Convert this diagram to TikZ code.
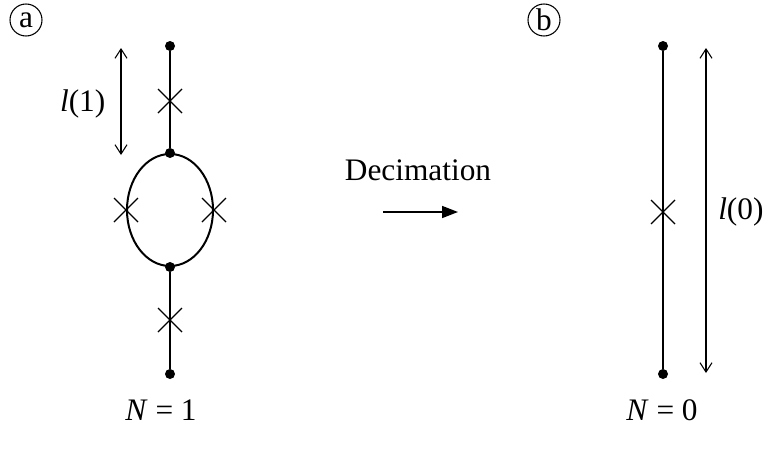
\documentclass[tikz,border=0pt]{standalone}
\usepackage{fontspec}
\setmainfont{Liberation Serif}
\usetikzlibrary{arrows.meta,shapes.misc,shapes.geometric}

\tikzset{
  dot/.style={circle,fill,inner sep=0pt,minimum size=7.5pt},
  xmark/.style={cross out,draw,line width=1pt,minimum size=17pt,inner sep=0pt},
  bond/.style={line width=1.5pt},
  lenarrow/.style={line width=0.8pt,{Straight Barb[length=7pt,width=9pt]}-{Straight Barb[length=7pt,width=9pt]}},
  panel/.style={circle,draw,line width=0.8pt,inner sep=0pt,minimum size=24pt}
}

\begin{document}
\begin{tikzpicture}[x=0.75pt,y=0.75pt,yscale=-1,xscale=1,font=\fontsize{23.5}{28}\selectfont]
\useasboundingbox (0,0) rectangle (763,450);

% panel labels
\node[panel] (pa) at (26,20) {a};
\node[panel] (pb) at (544,20) {b};

% graph N=1
\node[dot] (a1) at (170,46) {};
\node[xmark] (ax1) at (170,101) {};
\node[ellipse,draw,line width=1.5pt,inner sep=0pt,minimum width=64.5pt,minimum height=84pt] (loop) at (170,210) {};
\node[dot] (a2) at (loop.north) {};
\node[dot] (a3) at (loop.south) {};
\node[xmark] (axl) at (loop.west) {};
\node[xmark] (axr) at (loop.east) {};
\node[xmark] (ax2) at (170,320) {};
\node[dot] (a4) at (170,374) {};
\draw[bond] (a1) -- (a2);
\draw[bond] (a3) -- (a4);

% length l(1)
\coordinate (l1top) at (121,48);
\coordinate (l1bot) at (121,155);
\draw[lenarrow] (l1top) -- (l1bot);
\node[anchor=east] (l1lab) at (110,104) {\textit{l}(1)};

% decimation step
\node[anchor=base] (dec) at (418,180) {Decimation};
\coordinate (decl) at (383,212);
\coordinate (decr) at (458,212);
\draw[line width=1.2pt,-{Triangle[length=12pt,width=9pt]}] (decl) -- (decr);

% graph N=0
\node[dot] (b1) at (663,46) {};
\node[dot] (b2) at (663,374) {};
\node[xmark] (bx) at (663,212) {};
\draw[bond] (b1) -- (b2);

% length l(0)
\coordinate (l0top) at (706,48);
\coordinate (l0bot) at (706,373);
\draw[lenarrow] (l0top) -- (l0bot);
\node[anchor=west,inner sep=0pt] (l0lab) at (718,212) {\textit{l}(0)};

% labels
\node[anchor=base] (n1) at (161,420) {\textit{N} = 1};
\node[anchor=base] (n0) at (662,420) {\textit{N} = 0};
\end{tikzpicture}
\end{document}
